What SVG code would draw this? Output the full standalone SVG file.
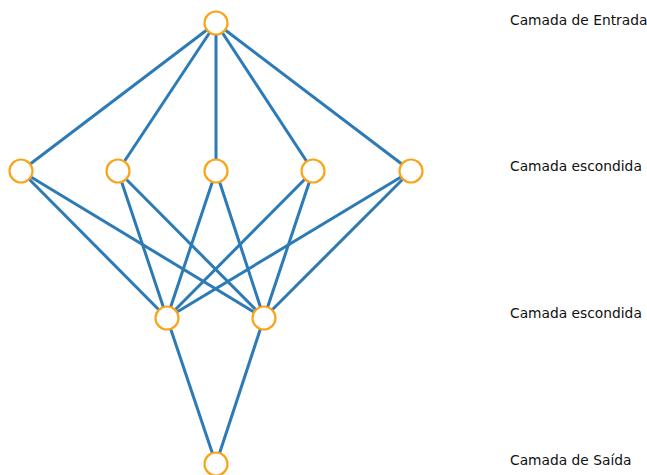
<svg xmlns="http://www.w3.org/2000/svg" width="647" height="475" viewBox="0 0 647 475">
<style>
.e{stroke:#2c7bb6;stroke-width:3;fill:none}
.n{fill:#fff;stroke:#f8a51c;stroke-width:2.2}
.t{font-family:"DejaVu Sans",Verdana,sans-serif;font-size:13.8px;fill:#111}
</style>
<rect width="647" height="475" fill="#fff"/>
<g id="connectors">
<line class="e" x1="216" y1="23" x2="21" y2="171"/>
<line class="e" x1="216" y1="23" x2="118" y2="171"/>
<line class="e" x1="216" y1="23" x2="216" y2="171"/>
<line class="e" x1="216" y1="23" x2="313" y2="171"/>
<line class="e" x1="216" y1="23" x2="411" y2="171"/>
<line class="e" x1="21" y1="171" x2="167" y2="318"/>
<line class="e" x1="21" y1="171" x2="264" y2="318"/>
<line class="e" x1="118" y1="171" x2="167" y2="318"/>
<line class="e" x1="118" y1="171" x2="264" y2="318"/>
<line class="e" x1="216" y1="171" x2="167" y2="318"/>
<line class="e" x1="216" y1="171" x2="264" y2="318"/>
<line class="e" x1="313" y1="171" x2="167" y2="318"/>
<line class="e" x1="313" y1="171" x2="264" y2="318"/>
<line class="e" x1="411" y1="171" x2="167" y2="318"/>
<line class="e" x1="411" y1="171" x2="264" y2="318"/>
<line class="e" x1="167" y1="318" x2="216" y2="464"/>
<line class="e" x1="264" y1="318" x2="216" y2="464"/>
</g>
<g id="in0"><circle class="n" cx="216" cy="23" r="11.5"/></g>
<g id="h1a"><circle class="n" cx="21" cy="171" r="11.5"/></g>
<g id="h1b"><circle class="n" cx="118" cy="171" r="11.5"/></g>
<g id="h1c"><circle class="n" cx="216" cy="171" r="11.5"/></g>
<g id="h1d"><circle class="n" cx="313" cy="171" r="11.5"/></g>
<g id="h1e"><circle class="n" cx="411" cy="171" r="11.5"/></g>
<g id="h2a"><circle class="n" cx="167" cy="318" r="11.5"/></g>
<g id="h2b"><circle class="n" cx="264" cy="318" r="11.5"/></g>
<g id="out0"><circle class="n" cx="216" cy="464" r="11.5"/></g>
<g id="labels">
<text class="t" x="510" y="25">Camada de Entrada</text>
<text class="t" x="510" y="171">Camada escondida</text>
<text class="t" x="510" y="318">Camada escondida</text>
<text class="t" x="510" y="465">Camada de Saída</text>
</g>
</svg>
